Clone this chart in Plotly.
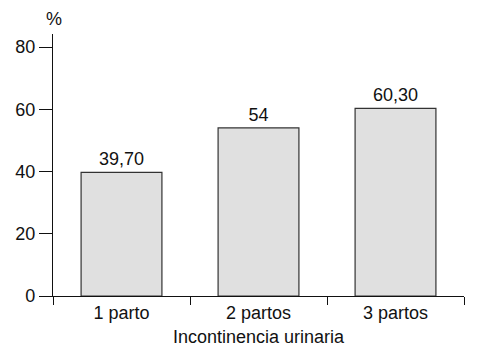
import plotly.graph_objects as go

categories = ["1 parto", "2 partos", "3 partos"]
values = [39.7, 54, 60.3]
value_labels = ["39,70", "54", "60,30"]
y_ticks = [0, 20, 40, 60, 80]

font_family = "Liberation Sans, Arial, sans-serif"

fig = go.Figure()
fig.add_trace(go.Bar(
    x=categories,
    y=values,
    text=value_labels,
    textposition="outside",
    cliponaxis=False,
    textfont=dict(size=18, color="#111111", family=font_family),
    marker=dict(color="#e0e0e0", line=dict(color="#333333", width=1.2)),
    width=0.59,
))

fig.update_layout(
    width=489, height=352,
    margin=dict(l=53, r=25, t=34, b=56),
    plot_bgcolor="white", paper_bgcolor="white",
    font=dict(family=font_family, size=18, color="#111111"),
    showlegend=False,
    bargap=0.41,
)
fig.update_xaxes(
    showline=True, linecolor="#111111", linewidth=1.2,
    ticks="outside", tickson="boundaries", ticklen=8, tickcolor="#111111", tickwidth=1.2,
    title=dict(text="Incontinencia urinaria", font=dict(size=18), standoff=8),
    tickfont=dict(size=18),
    showgrid=False, automargin=False,
)
fig.update_yaxes(
    range=[0, 84.2], tickvals=y_ticks,
    showline=True, linecolor="#111111", linewidth=1.2,
    ticks="outside", ticklen=13, tickcolor="#111111", tickwidth=1.2,
    tickfont=dict(size=18),
    showgrid=False, zeroline=False, automargin=False,
)
fig.add_annotation(
    text="%", xref="paper", yref="paper", x=0.003, y=1.057,
    xanchor="center", yanchor="middle", showarrow=False,
    font=dict(size=18, color="#111111", family=font_family),
)

fig.write_html("out.html", config={"displayModeBar": False},
               post_script="document.body.style.margin='0';")
